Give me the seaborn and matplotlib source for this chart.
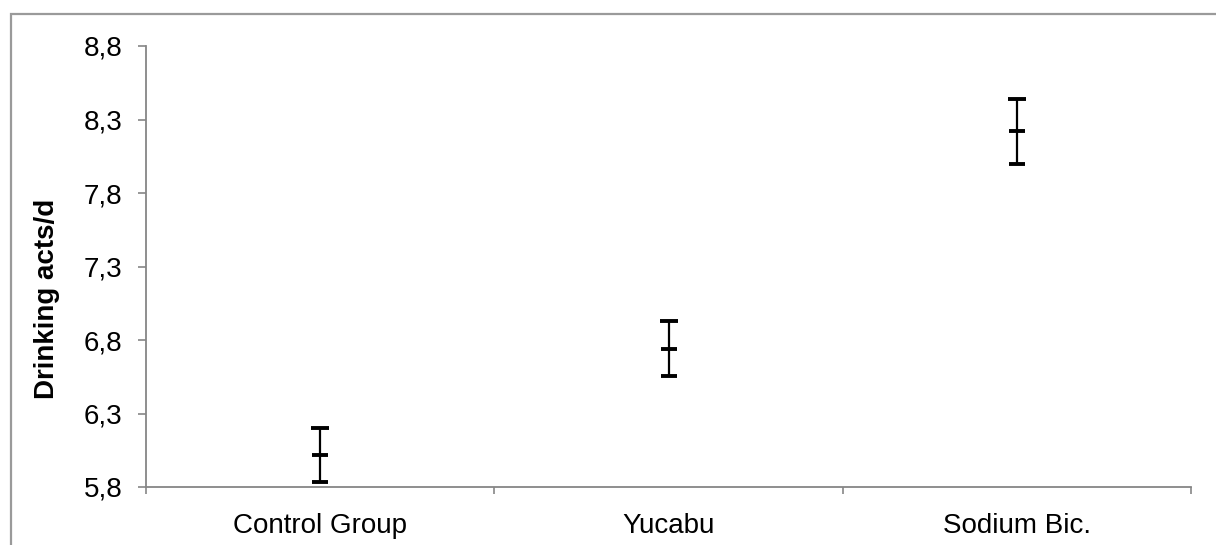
import matplotlib
matplotlib.use("Agg")
import matplotlib.pyplot as plt
from matplotlib.patches import Rectangle
from matplotlib.ticker import FixedLocator
import seaborn as sns
import pandas as pd

# Group means and error half-widths (drinking acts per day)
groups = ["Control Group", "Yucabu", "Sodium Bic."]
means = [6.02, 6.74, 8.22]
errors = [0.184, 0.188, 0.22]

# Y axis ticks and their comma-decimal labels
y_ticks = [5.8, 6.3, 6.8, 7.3, 7.8, 8.3, 8.8]
y_tick_labels = ["5,8", "6,3", "6,8", "7,3", "7,8", "8,3", "8,8"]

sns.set_theme(style="white")
plt.rcParams["font.family"] = ["Liberation Sans", "DejaVu Sans"]

df = pd.DataFrame({"group": groups, "mean": means, "err": errors})
df["upper"] = df["mean"] + df["err"]
df["lower"] = df["mean"] - df["err"]

W, H = 1216, 545
fig = plt.figure(figsize=(W / 100, H / 100), dpi=100)
fig.patch.set_facecolor("white")

left, right, top, bottom = 146, 1191, 46, 487
ax = fig.add_axes([left / W, (H - bottom) / H, (right - left) / W, (bottom - top) / H])

axis_grey = "#868686"

# vertical error lines
ax.errorbar(range(len(groups)), df["mean"], yerr=df["err"], fmt="none",
            ecolor="black", elinewidth=1.6, capsize=0, zorder=3)

# upper caps (slightly wider), mean marks and lower caps
sns.scatterplot(data=df, x="group", y="upper", marker="_", s=13.5 ** 2,
                color="black", linewidth=2.8, ax=ax, zorder=4, legend=False)
sns.scatterplot(data=df, x="group", y="mean", marker="_", s=11 ** 2,
                color="black", linewidth=2.8, ax=ax, zorder=4, legend=False)
sns.scatterplot(data=df, x="group", y="lower", marker="_", s=11 ** 2,
                color="black", linewidth=2.8, ax=ax, zorder=4, legend=False)

ax.set_xlim(-0.5, len(groups) - 0.5)
ax.set_ylim(y_ticks[0], y_ticks[-1])

ax.set_yticks(y_ticks)
ax.set_yticklabels(y_tick_labels)
ax.set_xticks(range(len(groups)))
ax.set_xticklabels(groups)
ax.xaxis.set_minor_locator(FixedLocator([i - 0.5 for i in range(len(groups) + 1)]))

for side in ["top", "right"]:
    ax.spines[side].set_visible(False)
for side in ["left", "bottom"]:
    ax.spines[side].set_color(axis_grey)
    ax.spines[side].set_linewidth(1.3)

ax.tick_params(axis="y", which="major", direction="out", length=6, width=1.2,
               color=axis_grey, left=True, pad=11, labelsize=20, labelcolor="black")
ax.tick_params(axis="x", which="major", length=0, pad=19, labelsize=20, labelcolor="black")
ax.tick_params(axis="x", which="minor", direction="out", length=5, width=1.2,
               color=axis_grey, bottom=True)

ax.set_xlabel("")
ax.set_ylabel("Drinking acts/d", fontsize=20, fontweight="bold", color="black")
ax.yaxis.set_label_coords((60 - left) / (right - left), (bottom - 299) / (bottom - top))

# outer chart frame
fig.patches.append(Rectangle((10.5 / W, -0.2), 1.5, (H - 13.5) / H + 0.2,
                             transform=fig.transFigure, fill=False,
                             edgecolor="#9a9a9a", linewidth=1.6, zorder=0))

fig.savefig("out.png", dpi=100, facecolor="white")
